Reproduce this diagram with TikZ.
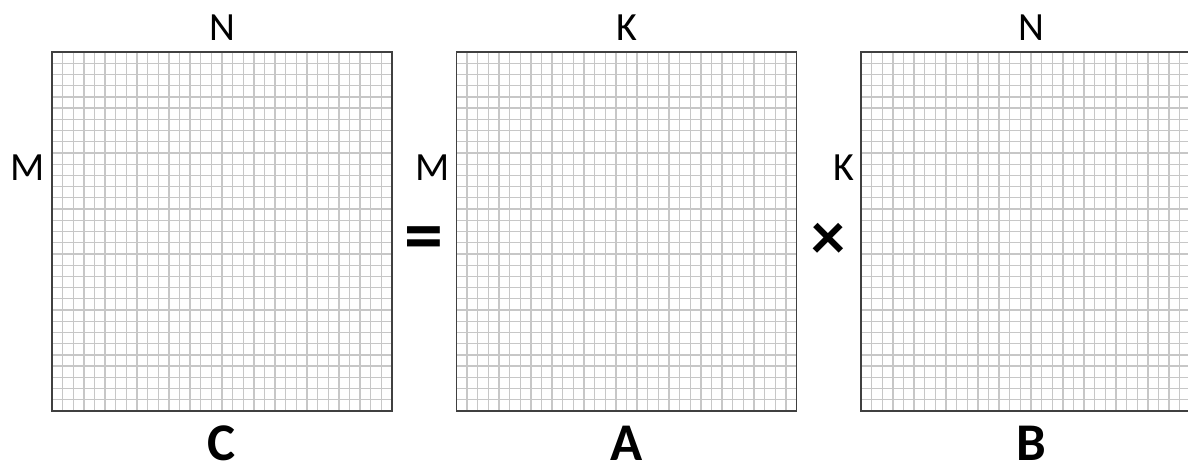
\documentclass[tikz,border=0pt]{standalone}
\usepackage{fontspec}
\setmainfont{Carlito}
\usetikzlibrary{calc,positioning}

\begin{document}
\begin{tikzpicture}[
                x=1pt, y=1pt,
                gridline/.style={
                    draw=black!22,
                    line width=1.3pt
                },
                matbox/.style={
                    rectangle,
                    draw=black!75,
                    line width=1.8pt,
                    minimum width=340pt,
                    minimum height=359pt,
                    inner sep=0pt,
                    outer sep=0pt,
                    path picture={
                        \foreach \i in {1,...,31} {
                            \draw[gridline] ($(path picture bounding box.south west)!\i/32!(path picture bounding box.south east)$) -- ++(0,359);
                            \draw[gridline] ($(path picture bounding box.south west)!\i/32!(path picture bounding box.north west)$) -- ++(340,0);
                        }
                    }
                },
                dimlabel/.style={
                    inner sep=0pt,
                    font=\fontsize{40}{48}\selectfont
                },
                namelabel/.style={
                    inner sep=0pt,
                    font=\fontsize{53}{64}\selectfont\bfseries
                },
                oplabel/.style={
                    inner sep=0pt,
                    font=\fontsize{78}{90}\selectfont\bfseries
                }
            ]
    \useasboundingbox (0,0) rectangle (1188,468);
    \begin{scope}
    \clip (0,0) rectangle (1188,468);

    % the three matrices
    \node[matbox] (C) at (222,236.5) {};
    \node[matbox] (A) at (626.5,236.5) {};
    \node[matbox] (B) at (1031,236.5) {};

    % sizes
    \node[dimlabel] (CN) at ([yshift=24]C.north) {N};
    \node[dimlabel, anchor=east] (CM) at ([xshift=-7,yshift=-116]C.north west) {M};
    \node[dimlabel] (AK) at ([yshift=24]A.north) {K};
    \node[dimlabel, anchor=east] (AM) at ([xshift=-7,yshift=-116]A.north west) {M};
    \node[dimlabel] (BN) at ([yshift=24]B.north) {N};
    \node[dimlabel, anchor=east] (BK) at ([xshift=-7,yshift=-116]B.north west) {K};

    % names
    \node[namelabel] (Cname) at ([yshift=-32]C.south) {C};
    \node[namelabel] (Aname) at ([yshift=-32]A.south) {A};
    \node[namelabel] (Bname) at ([yshift=-32]B.south) {B};

    % operators
    \node[oplabel] (eq) at ($(C.east)!0.5!(A.west)+(0,-13)$) {=};
    \node[oplabel, font=\fontsize{68}{80}\selectfont\bfseries] (times) at ($(A.east)!0.5!(B.west)+(0,-10)$) {×};
    \end{scope}
\end{tikzpicture}
\end{document}
